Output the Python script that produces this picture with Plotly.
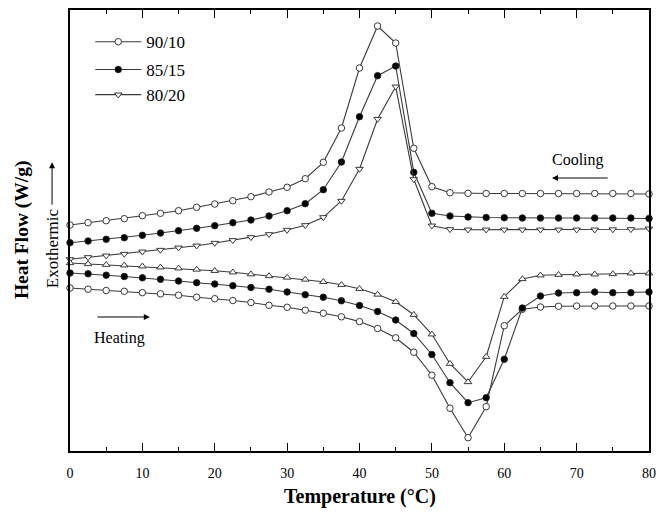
import plotly.graph_objects as go

temperature = [i * 2.5 for i in range(33)]

cool_90_10 = [22.6, 22.83, 23.03, 23.23, 23.53, 23.77, 24.03, 24.37, 24.7, 25.03, 25.43, 25.9, 26.37, 27.23,
              28.87, 32.3, 38.3, 42.5, 40.8, 30.27, 26.43, 25.83, 25.77, 25.75, 25.75, 25.75, 25.75, 25.75,
              25.75, 25.75, 25.75, 25.75, 25.7]
cool_85_15 = [20.83, 21.0, 21.17, 21.33, 21.57, 21.8, 22.03, 22.27, 22.53, 22.83, 23.1, 23.5, 24.03, 24.73,
              26.13, 28.9, 33.43, 37.53, 38.5, 27.87, 23.77, 23.5, 23.4, 23.35, 23.33, 23.3, 23.3, 23.3,
              23.3, 23.3, 23.3, 23.3, 23.25]
cool_80_20 = [19.17, 19.37, 19.53, 19.7, 19.93, 20.1, 20.33, 20.53, 20.8, 21.07, 21.37, 21.67, 22.1, 22.57,
              23.37, 25.0, 28.2, 33.2, 36.43, 27.17, 22.53, 22.17, 22.13, 22.13, 22.13, 22.13, 22.13, 22.13,
              22.13, 22.13, 22.15, 22.17, 22.23]

heat_90_10 = [16.3, 16.18, 16.05, 15.97, 15.83, 15.72, 15.58, 15.38, 15.23, 15.05, 14.85, 14.57, 14.37, 14.08,
              13.78, 13.42, 12.94, 12.25, 11.32, 9.88, 7.58, 4.28, 1.33, 4.43, 12.53, 14.17, 14.4, 14.47,
              14.5, 14.5, 14.5, 14.5, 14.5]
heat_85_15 = [17.8, 17.72, 17.58, 17.45, 17.32, 17.17, 17.0, 16.83, 16.7, 16.53, 16.35, 16.18, 15.9, 15.63,
              15.38, 15.02, 14.55, 13.95, 13.1, 11.75, 9.65, 6.83, 4.83, 5.33, 9.17, 14.3, 15.5, 15.8,
              15.83, 15.9, 15.83, 15.83, 15.9]
heat_80_20 = [18.8, 18.7, 18.63, 18.57, 18.47, 18.37, 18.27, 18.15, 18.02, 17.87, 17.68, 17.5, 17.35, 17.15,
              16.92, 16.62, 16.22, 15.65, 14.92, 13.63, 11.67, 8.73, 6.9, 9.43, 15.43, 17.2, 17.57, 17.63,
              17.67, 17.67, 17.7, 17.77, 17.77]

series_labels = ["90/10", "85/15", "80/20"]
x_ticks = [0, 10, 20, 30, 40, 50, 60, 70, 80]

FONT = "Liberation Serif, Times New Roman, serif"
LINE = "#3a3a3a"

fig = go.Figure()

def add(y, name, symbol, fill, show, legend="legend"):
    fig.add_trace(go.Scatter(
        x=temperature, y=y, mode="lines+markers", name=name, showlegend=show, legend=legend,
        line=dict(color=LINE, width=1.1),
        marker=dict(symbol=symbol, size=6.5, color=fill, line=dict(color="#222222", width=0.9)),
        cliponaxis=False,
    ))

add(cool_90_10, series_labels[0], "circle", "white", True, "legend")
add(cool_85_15, series_labels[1], "circle", "black", True, "legend2")
add(cool_80_20, series_labels[2], "triangle-down", "white", True, "legend3")
add(heat_90_10, series_labels[0], "circle", "white", False)
add(heat_85_15, series_labels[1], "circle", "black", False)
add(heat_80_20, series_labels[2], "triangle-up", "white", False)

annotations = [
    # Cooling label and arrow
    dict(x=70.2, y=29.1, xref="x", yref="y", text="Cooling", showarrow=False,
         xanchor="center", yanchor="middle", font=dict(family=FONT, size=16, color="black")),
    dict(x=66.6, y=27.3, xref="x", yref="y", ax=74.5, ay=27.3, axref="x", ayref="y",
         text="", showarrow=True, arrowhead=2, arrowsize=1.2, arrowwidth=1, arrowcolor="black"),
    # Heating label and arrow
    dict(x=6.9, y=11.3, xref="x", yref="y", text="Heating", showarrow=False,
         xanchor="center", yanchor="middle", font=dict(family=FONT, size=16, color="black")),
    dict(x=11.03, y=13.4, xref="x", yref="y", ax=3.59, ay=13.4, axref="x", ayref="y",
         text="", showarrow=True, arrowhead=2, arrowsize=1.2, arrowwidth=1, arrowcolor="black"),
    # Y title
    dict(x=-0.083, y=0.503, xref="paper", yref="paper", text="<b>Heat Flow (W/g)</b>", textangle=-90,
         xanchor="center", yanchor="middle", showarrow=False, font=dict(family=FONT, size=19.5, color="black")),
    # Exothermic
    dict(x=-0.031, y=0.46, xref="paper", yref="paper", text="Exothermic", textangle=-90,
         xanchor="center", yanchor="middle", showarrow=False, font=dict(family=FONT, size=17, color="black")),
    dict(x=-0.031, y=0.655, xref="paper", yref="paper", ax=0, ay=44, text="", showarrow=True,
         arrowhead=2, arrowsize=1.2, arrowwidth=1, arrowcolor="black"),
    # X title
    dict(x=0.5, y=-0.104, xref="paper", yref="paper", text="<b>Temperature (°C)</b>",
         xanchor="center", yanchor="middle", showarrow=False, font=dict(family=FONT, size=20, color="black")),
]

leg_common = dict(x=0.035, xanchor="left", yanchor="middle", bgcolor="rgba(0,0,0,0)",
                  font=dict(family=FONT, size=17), itemwidth=46)

# page body adds an 8px offset; figure sized so the plot area lands at x 70-649, y 10-451
fig.update_layout(
    width=657, height=505,
    margin=dict(l=62, r=16, t=2, b=62, autoexpand=False),
    plot_bgcolor="white", paper_bgcolor="white",
    font=dict(family=FONT, size=14, color="black"),
    showlegend=True,
    legend=dict(y=0.927, **leg_common),
    legend2=dict(y=0.864, **leg_common),
    legend3=dict(y=0.807, **leg_common),
    annotations=annotations,
    xaxis=dict(range=[0, 80], tickvals=x_ticks, ticktext=[str(v) for v in x_ticks],
               ticks="inside", ticklen=8, tickwidth=1, tickcolor="black", ticklabelstandoff=8,
               minor=dict(ticks="inside", ticklen=4, dtick=5, tickcolor="black", tickwidth=1),
               showline=True, linecolor="black", linewidth=1.5, mirror="ticks",
               showgrid=False, zeroline=False, tickfont=dict(family=FONT, size=14)),
    yaxis=dict(range=[0, 44.1], showticklabels=False, ticks="", showline=True, linecolor="black",
               linewidth=1.5, mirror=True, showgrid=False, zeroline=False),
)

fig.write_html("out.html")
